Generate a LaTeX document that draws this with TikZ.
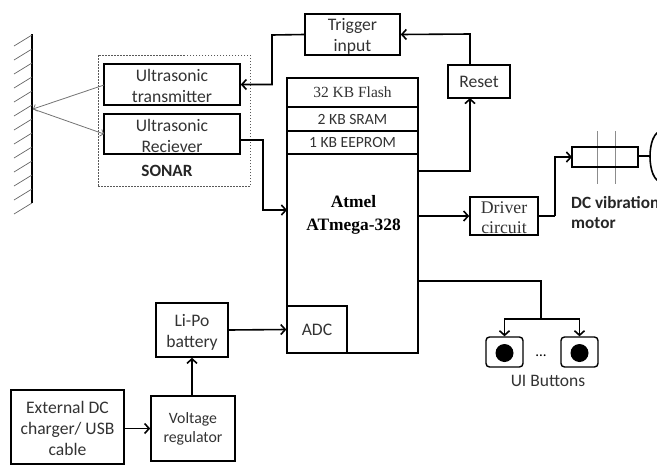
\documentclass[tikz,border=0pt]{standalone}
\usepackage{fontspec}
\setmainfont{Carlito}
\newfontfamily\serifname{Liberation Serif}
\usetikzlibrary{arrows.meta}
\newcommand{\topgap}{\rule{0pt}{16pt}}
\begin{document}
\begin{tikzpicture}[x=1pt, y=-1pt,
    block/.style = {draw, line width=1.6pt, inner sep=0pt, align=center, text=black!80,
      font=\fontsize{17.6}{21}\selectfont},
    mem/.style = {draw, line width=1.1pt, inner sep=0pt, minimum width=131pt, text=black!80},
    label/.style = {inner sep=0pt, align=left, text=black!85, font=\fontsize{17.2}{20}\selectfont\bfseries},
    btn/.style = {draw, line width=1.4pt, rounded corners=3.5pt, minimum width=37pt, minimum height=30pt, inner sep=0pt},
    dot/.style = {fill=black, circle, minimum size=18pt, inner sep=0pt},
    conn/.style = {line width=1.6pt, -{Straight Barb[length=4.5pt,width=10pt]}},
    wire/.style = {line width=1.6pt},
    ray/.style = {draw=black!55, line width=.8pt}]
  \useasboundingbox (0,0) rectangle (657,464);
  % wall
  \coordinate (walltop) at (32,34);
  \coordinate (wallbot) at (32,203);
  \coordinate (wallhit) at (33,109);
  \draw[line width=2.6pt] (walltop) -- (wallbot);
  \foreach \y in {0,...,12}
    \draw[black!60, line width=.7pt] (32,35+14*\y) -- (14,46+14*\y);
  % sonar
  \node[draw, dash pattern=on 1.5pt off 1.5pt, black!65, line width=.6pt, minimum width=152pt, minimum height=131pt, inner sep=0pt] (sonar) at (174,120.5) {};
  \node[block, minimum width=136pt, minimum height=41pt] (trans) at (172,84.5) {\topgap Ultrasonic\\transmitter};
  \node[block, minimum width=136pt, minimum height=40pt] (recv) at (172,134) {\topgap Ultrasonic\\Reciever};
  \node[label] (sonarlab) at (167,171) {SONAR};
  \node[block, minimum width=95pt, minimum height=41pt] (trigger) at (352.5,34.5) {\topgap Trigger\\input};
  % atmel
  \node[draw, line width=1.6pt, minimum width=131pt, minimum height=275pt, inner sep=0pt] (atmel) at (352.5,215.5) {};
  \node[mem, minimum height=29pt, font=\serifname\fontsize{15.5}{16}\selectfont] (flash) at (352.5,92.5) {32 KB Flash};
  \node[mem, minimum height=24pt, font=\fontsize{15.6}{16}\selectfont] (sram) at (352.5,119) {2 KB SRAM};
  \node[mem, minimum height=23pt, font=\fontsize{15.6}{16}\selectfont] (eeprom) at (352.5,142.5) {1 KB EEPROM};
  \node[inner sep=0pt, align=center, font=\serifname\bfseries\fontsize{17.4}{23}\selectfont] (chip) at (353.5,215) {Atmel\\ATmega-328};
  \node[block, line width=1.3pt, minimum width=60pt, minimum height=47pt] (adc) at (317,329.5) {ADC};
  \node[block, minimum width=62pt, minimum height=33pt] (reset) at (479,81.5) {Reset};
  \node[block, minimum width=68pt, minimum height=38pt, font=\serifname\fontsize{17.8}{20}\selectfont] (driver) at (504,216) {\topgap Driver\\circuit};
  % motor
  \coordinate (polea) at (597,131);
  \coordinate (poleb) at (615,131);
  \coordinate (polec) at (597,184);
  \coordinate (poled) at (615,184);
  \draw[black!45, line width=.9pt] (polea) -- (polec);
  \draw[black!45, line width=.9pt] (poleb) -- (poled);
  \node[draw, line width=1.6pt, minimum width=66pt, minimum height=20pt, inner sep=0pt] (motor) at (605,157) {};
  \coordinate (shaft) at (651,156);
  \draw[wire] (motor.east |- shaft) -- (shaft);
  \draw[wire] (662,131) .. controls (646,131) and (646,182) .. (662,182);
  \node[label, anchor=north west] (motorlab) at (571,196) {DC vibration\\motor};
  % buttons
  \node[btn] (btna) at (504.5,352) {};
  \node[btn] (btnb) at (579.5,352) {};
  \node[dot] (dota) at (504.5,353) {};
  \node[dot] (dotb) at (579.5,353) {};
  \node[inner sep=0pt, font=\fontsize{15}{15}\selectfont] (dots) at (541,356) {...};
  \node[inner sep=0pt, text=black!80, font=\fontsize{17.5}{18}\selectfont] (uilab) at (548,381) {UI Buttons};
  % power
  \node[block, minimum width=72pt, minimum height=54pt] (lipo) at (192,330) {\topgap Li-Po\\battery};
  \node[block, minimum width=84pt, minimum height=65pt, font=\fontsize{15.8}{19}\selectfont] (reg) at (193,428.5) {Voltage\\regulator};
  \node[block, minimum width=113pt, minimum height=74pt] (ext) at (67.5,427) {\topgap External DC\\charger/ USB\\cable};
  % connectors
  \coordinate (rayt) at (104,85);
  \coordinate (rayr) at (104,134);
  \draw[ray, -{Straight Barb[length=3pt,width=7pt]}] (rayt) -- (wallhit);
  \draw[ray, -{Straight Barb[length=3pt,width=7pt]}] (wallhit) -- (rayr);
  \coordinate (bendt) at (272,35);
  \draw[conn] (trigger.west) -- (bendt) |- (trans.east);
  \coordinate (bendr) at (263,140);
  \coordinate (recvin) at (287,210);
  \draw[conn] (recv.east |- bendr) -- (bendr) |- (recvin);
  \draw[conn] (reset.north -| 470,65) -- (470,34) -- (trigger.east);
  \coordinate (resetout) at (418,171);
  \draw[conn] (resetout) -| (470,98);
  \coordinate (driverin) at (418,216);
  \draw[conn] (driverin) -- (driver.west);
  \coordinate (bendm) at (555,216);
  \coordinate (motorin) at (572,157);
  \draw[wire] (driver.east) -- (bendm);
  \draw[conn] (bendm) |- (motorin);
  \coordinate (uiout) at (418,281);
  \coordinate (uibend) at (541,281);
  \coordinate (uijoin) at (541,319);
  \draw[wire] (uiout) -- (uibend) -- (uijoin);
  \draw[conn] (uijoin) -| (btna.north);
  \draw[conn] (uijoin) -| (btnb.north);
  \draw[conn] (lipo.east) -- (adc.west);
  \draw[conn] (reg.north -| lipo.south) -- (lipo.south);
  \draw[conn] (ext.east |- reg.west) -- (reg.west);
\end{tikzpicture}
\end{document}
